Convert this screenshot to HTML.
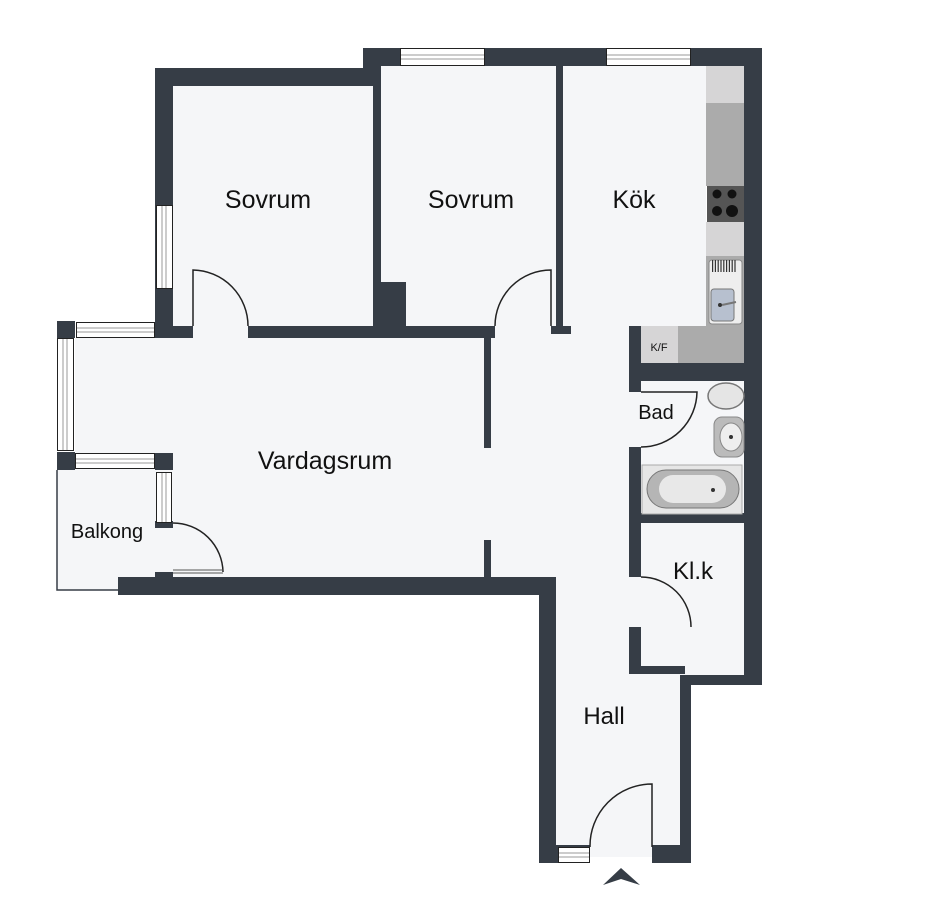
<!DOCTYPE html>
<html><head><meta charset="utf-8"><style>
html,body{margin:0;padding:0;background:#fff;}
svg{display:block;}
text{font-family:"Liberation Sans",sans-serif;fill:#111;}
</style></head><body>
<svg width="926" height="900" viewBox="0 0 926 900" xmlns="http://www.w3.org/2000/svg">
<g fill="#f5f6f8">
<rect x="173" y="86" width="200" height="252"/>
<rect x="381" y="66" width="175" height="272"/>
<rect x="563" y="66" width="143" height="272"/>
<rect x="75" y="338" width="554" height="239"/>
<rect x="491" y="326" width="138" height="252"/>
<rect x="556" y="577" width="124" height="280"/>
<rect x="629" y="577" width="56" height="90"/>
<rect x="629" y="381" width="116" height="132"/>
<rect x="641" y="523" width="104" height="152"/>
<rect x="57" y="470" width="100" height="120"/>
</g>
<polyline points="57,470 57,590 118,590" fill="none" stroke="#363d46" stroke-width="1.5"/>
<g fill="#363d46">
<rect x="155" y="68" width="226" height="18"/>
<rect x="155" y="68" width="18" height="270"/>
<rect x="363" y="48" width="18" height="38"/>
<rect x="373" y="66" width="8" height="272"/>
<rect x="381" y="282" width="25" height="56"/>
<rect x="173" y="326" width="20" height="12"/>
<rect x="248" y="326" width="247" height="12"/>
<rect x="363" y="48" width="399" height="18"/>
<rect x="744" y="48" width="18" height="637"/>
<rect x="556" y="66" width="7" height="264"/>
<rect x="551" y="326" width="20" height="8"/>
<rect x="57" y="321" width="18" height="17"/>
<rect x="57" y="452" width="18" height="18"/>
<rect x="155" y="453" width="18" height="17"/>
<rect x="155" y="521" width="18" height="7"/>
<rect x="155" y="572" width="18" height="6"/>
<rect x="118" y="577" width="438" height="18"/>
<rect x="484" y="338" width="7" height="110"/>
<rect x="484" y="540" width="7" height="37"/>
<rect x="629" y="326" width="12" height="66"/>
<rect x="629" y="363" width="116" height="18"/>
<rect x="629" y="447" width="12" height="130"/>
<rect x="641" y="513" width="104" height="10"/>
<rect x="629" y="627" width="12" height="47"/>
<rect x="629" y="666" width="56" height="8"/>
<rect x="680" y="675" width="82" height="10"/>
<rect x="539" y="577" width="17" height="286"/>
<rect x="680" y="675" width="11" height="188"/>
<rect x="539" y="845" width="51" height="18"/>
<rect x="652" y="845" width="39" height="18"/>
</g>
<g fill="#fff" stroke="#222" stroke-width="1">
<rect x="400.5" y="48.5" width="84" height="17"/>
<rect x="606.5" y="48.5" width="84" height="17"/>
<rect x="156.5" y="205.5" width="16" height="83"/>
<rect x="76.5" y="322.5" width="78" height="15"/>
<rect x="57.5" y="338.5" width="16" height="112"/>
<rect x="75.5" y="453.5" width="79" height="15"/>
<rect x="156.5" y="472.5" width="15" height="50"/>
<rect x="558.5" y="847.5" width="31" height="15"/>
</g>
<g stroke="#999" stroke-width="1">
<line x1="401" y1="55" x2="484" y2="55"/><line x1="401" y1="59" x2="484" y2="59"/>
<line x1="607" y1="55" x2="690" y2="55"/><line x1="607" y1="59" x2="690" y2="59"/>
<line x1="162" y1="206" x2="162" y2="288"/><line x1="166" y1="206" x2="166" y2="288"/>
<line x1="77" y1="328" x2="154" y2="328"/><line x1="77" y1="332" x2="154" y2="332"/>
<line x1="63" y1="339" x2="63" y2="450"/><line x1="67" y1="339" x2="67" y2="450"/>
<line x1="76" y1="459" x2="154" y2="459"/><line x1="76" y1="463" x2="154" y2="463"/>
<line x1="162" y1="473" x2="162" y2="522"/><line x1="166" y1="473" x2="166" y2="522"/>
<line x1="559" y1="853" x2="589" y2="853"/><line x1="559" y1="857" x2="589" y2="857"/>
</g>
<g fill="none" stroke="#222" stroke-width="1.5">
<path d="M193 326 V270 A56 56 0 0 1 248 326"/>
<path d="M551 326 V270 A56 56 0 0 0 495 326"/>
<path d="M641 392 H697 A56 56 0 0 1 641 447"/>
<path d="M641 577 A50 50 0 0 1 691 627"/>
<path d="M173 523 A50 50 0 0 1 223 572"/>
<path d="M652 847 V784 A62 62 0 0 0 590 847"/>
</g>
<g stroke="#555" stroke-width="1"><line x1="173" y1="570" x2="223" y2="570"/><line x1="173" y1="573" x2="223" y2="573"/></g>
<rect x="706" y="66" width="38" height="37" fill="#d6d5d6"/>
<rect x="706" y="103" width="38" height="83" fill="#ababab"/>
<rect x="707" y="186" width="37" height="36" fill="#555"/>
<g fill="#111"><circle cx="717" cy="194" r="4.5"/><circle cx="732" cy="194" r="4.5"/><circle cx="717" cy="211" r="5"/><circle cx="732" cy="211" r="6"/></g>
<rect x="706" y="222" width="38" height="34" fill="#d6d5d6"/>
<rect x="706" y="256" width="38" height="70" fill="#ababab"/>
<rect x="709" y="260" width="33" height="64" rx="3" fill="#eee" stroke="#888"/>
<g stroke="#333"><line x1="712" y1="266" x2="737" y2="266" stroke-width="12" stroke-dasharray="1.2 1.6"/></g>
<rect x="711" y="289" width="23" height="32" rx="3" fill="#b7c0cf" stroke="#777"/>
<circle cx="720" cy="305" r="2" fill="#333"/>
<line x1="722" y1="305" x2="736" y2="302" stroke="#777" stroke-width="2"/>
<rect x="641" y="326" width="37" height="37" fill="#d6d5d6"/>
<rect x="678" y="326" width="66" height="37" fill="#ababab"/>
<text x="659" y="351" font-size="11" text-anchor="middle" fill="#333">K/F</text>
<ellipse cx="726" cy="396" rx="18" ry="13" fill="#e5e5e5" stroke="#777" stroke-width="1.5"/>
<rect x="714" y="417" width="30" height="40" rx="8" fill="#bbb" stroke="#888"/>
<ellipse cx="731" cy="437" rx="11" ry="14" fill="#eee" stroke="#888"/>
<circle cx="731" cy="437" r="2" fill="#333"/>
<rect x="642" y="465" width="100" height="49" fill="#e6e6e6" stroke="#aaa"/>
<rect x="647" y="470" width="92" height="38" rx="19" fill="#b5b5b5" stroke="#777"/>
<rect x="659" y="475" width="67" height="28" rx="14" fill="#e8e8e8"/>
<circle cx="713" cy="490" r="2" fill="#333"/>
<polygon points="621,868 640,885 621,879 603,885" fill="#363d46"/>
<text x="268" y="208" font-size="25" text-anchor="middle">Sovrum</text>
<text x="471" y="208" font-size="25" text-anchor="middle">Sovrum</text>
<text x="634" y="208" font-size="25" text-anchor="middle">Kök</text>
<text x="325" y="469" font-size="25" text-anchor="middle">Vardagsrum</text>
<text x="107" y="538" font-size="20" text-anchor="middle">Balkong</text>
<text x="656" y="419" font-size="20" text-anchor="middle">Bad</text>
<text x="693" y="579" font-size="24" text-anchor="middle">Kl.k</text>
<text x="604" y="724" font-size="24" text-anchor="middle">Hall</text>
</svg>
</body></html>
